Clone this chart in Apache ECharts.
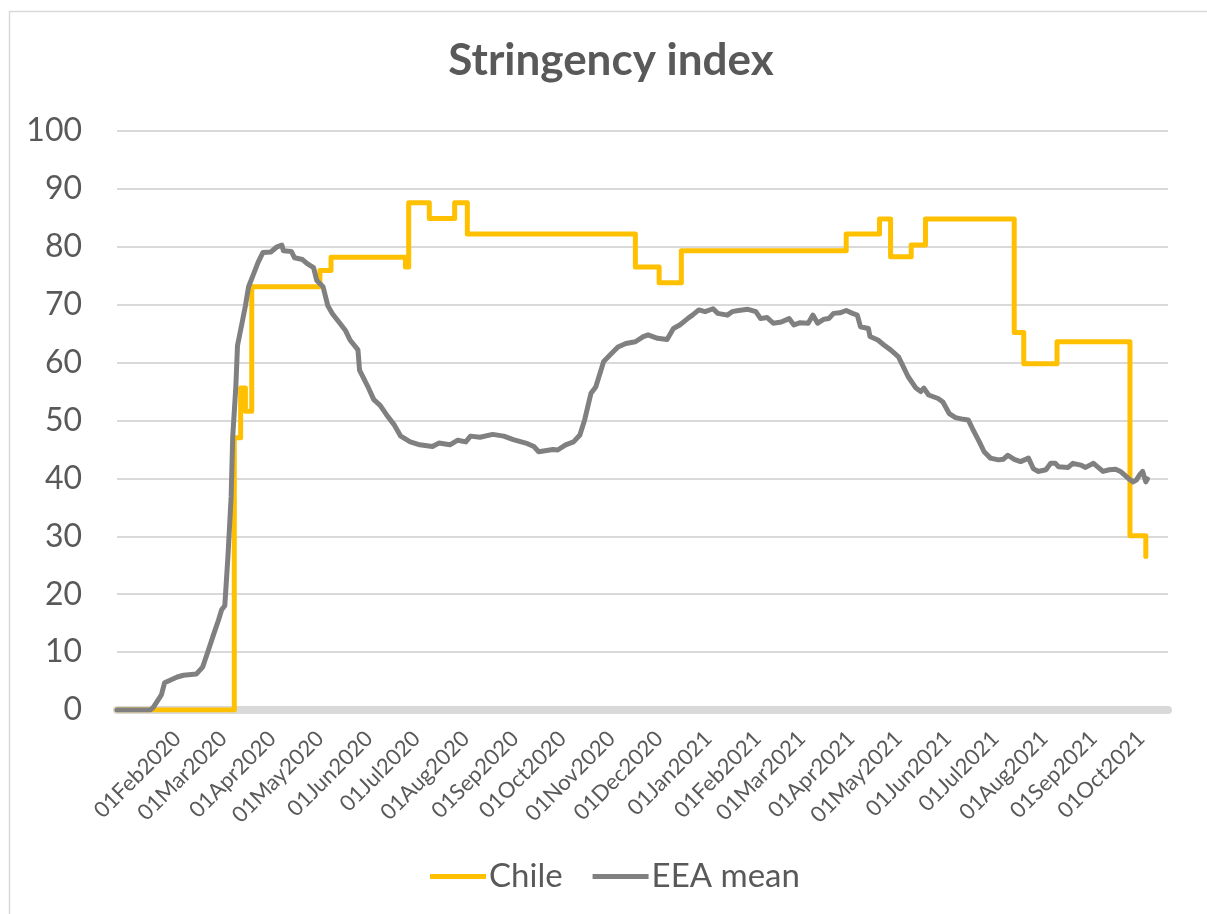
<!DOCTYPE html>
<html>
<head>
<meta charset="utf-8">
<script src="https://cdn.jsdelivr.net/npm/echarts@6/dist/echarts.min.js"></script>
<style>
html,body{margin:0;padding:0;background:#fff;}
#chart{width:1207px;height:914px;}
</style>
</head>
<body>
<div id="chart"></div>
<script>
const chartTitle = 'Stringency index';
const seriesNames = ['Chile', 'EEA mean'];

// Chile: dates where the index changed, and the new level
const chileDates = ['2019-12-25','2020-03-08','2020-03-12','2020-03-15','2020-03-19','2020-05-01','2020-05-08','2020-06-24','2020-06-26','2020-07-09','2020-07-25','2020-08-02','2020-11-16','2020-12-01','2020-12-15','2021-03-29','2021-04-19','2021-04-26','2021-05-09','2021-05-18','2021-07-13','2021-07-19','2021-08-09','2021-09-24','2021-10-04'];
const chileValues = [0,47,55.6,51.6,73.1,75.9,78.2,76.5,87.6,84.9,87.6,82.2,76.5,73.8,79.3,82.2,84.8,78.3,80.3,84.8,65.2,59.8,63.6,30.1,26.5];

// EEA mean: points
const eeaDates = ['2019-12-25','2020-01-15','2020-01-17','2020-01-22','2020-01-24','2020-02-01','2020-02-05','2020-02-13','2020-02-17','2020-02-20','2020-02-24','2020-02-27','2020-02-29','2020-03-02','2020-03-04','2020-03-06','2020-03-07','2020-03-09','2020-03-10','2020-03-13','2020-03-15','2020-03-17','2020-03-20','2020-03-23','2020-03-26','2020-03-31','2020-04-04','2020-04-07','2020-04-08','2020-04-13','2020-04-15','2020-04-20','2020-04-23','2020-04-27','2020-04-29','2020-05-03','2020-05-06','2020-05-09','2020-05-13','2020-05-17','2020-05-20','2020-05-25','2020-05-26','2020-05-31','2020-06-04','2020-06-08','2020-06-12','2020-06-17','2020-06-21','2020-06-27','2020-07-03','2020-07-11','2020-07-15','2020-07-22','2020-07-27','2020-08-01','2020-08-04','2020-08-10','2020-08-18','2020-08-25','2020-08-31','2020-09-09','2020-09-13','2020-09-16','2020-09-25','2020-09-28','2020-10-03','2020-10-08','2020-10-12','2020-10-15','2020-10-19','2020-10-22','2020-10-25','2020-10-27','2020-10-31','2020-11-05','2020-11-10','2020-11-16','2020-11-21','2020-11-24','2020-11-30','2020-12-06','2020-12-10','2020-12-14','2020-12-19','2020-12-22','2020-12-26','2020-12-30','2021-01-04','2021-01-07','2021-01-13','2021-01-16','2021-01-20','2021-01-26','2021-01-31','2021-02-03','2021-02-07','2021-02-11','2021-02-16','2021-02-21','2021-02-24','2021-02-28','2021-03-05','2021-03-08','2021-03-11','2021-03-15','2021-03-18','2021-03-21','2021-03-25','2021-03-29','2021-04-02','2021-04-05','2021-04-07','2021-04-12','2021-04-13','2021-04-18','2021-04-22','2021-04-26','2021-05-01','2021-05-04','2021-05-07','2021-05-12','2021-05-15','2021-05-17','2021-05-20','2021-05-26','2021-05-29','2021-06-02','2021-06-06','2021-06-11','2021-06-14','2021-06-17','2021-06-21','2021-06-24','2021-06-28','2021-07-03','2021-07-06','2021-07-09','2021-07-13','2021-07-17','2021-07-22','2021-07-25','2021-07-28','2021-08-02','2021-08-05','2021-08-08','2021-08-10','2021-08-16','2021-08-19','2021-08-24','2021-08-27','2021-09-01','2021-09-04','2021-09-07','2021-09-11','2021-09-15','2021-09-18','2021-09-23','2021-09-26','2021-09-28','2021-09-30','2021-10-02','2021-10-04','2021-10-05'];
const eeaValues = [0,0,0.5,2.6,4.7,5.7,6.0,6.2,7.4,9.8,13.1,15.5,17.3,18,26.6,36.8,47.2,56,62.9,67,69.8,73.1,75.2,77.3,79,79.1,80,80.3,79.3,79.2,78.1,77.8,77.1,76.4,74.2,73.1,69.8,68.4,67,65.6,63.9,62.2,58.7,56,53.6,52.6,51,49.2,47.3,46.3,45.8,45.5,46.1,45.8,46.6,46.3,47.3,47.1,47.6,47.3,46.7,46.0,45.5,44.6,45.0,44.9,45.8,46.3,47.5,50.1,54.7,55.8,58.4,60.2,61.3,62.7,63.3,63.6,64.5,64.8,64.2,64.0,65.9,66.5,67.6,68.2,69.1,68.8,69.3,68.5,68.2,68.8,69.0,69.2,68.8,67.6,67.8,66.8,67.0,67.6,66.5,66.9,66.8,68.2,66.8,67.5,67.6,68.5,68.6,69.0,68.5,68.2,66.2,65.9,64.5,63.9,63.0,62.2,61.0,59.3,57.6,55.6,55.0,55.6,54.4,53.8,53.2,51.2,50.5,50.2,50.1,48.4,46.3,44.6,43.5,43.2,43.3,44.0,43.3,42.9,43.5,41.7,41.2,41.5,42.6,42.6,42.0,41.9,42.6,42.3,41.9,42.6,41.9,41.2,41.5,41.6,41.2,40.0,39.4,39.7,40.6,41.2,39.4,39.9];

const axisStart = '2019-12-25';
const axisEnd = '2021-10-18';
const firstLabel = '2020-02-01';
const monthNames = ['Jan','Feb','Mar','Apr','May','Jun','Jul','Aug','Sep','Oct','Nov','Dec'];
const yMin = 0, yMax = 100, yStep = 10;

const FONT = 'Lato';
const TXT = '#595959';
const firstLabelTime = echarts.time.parse(firstLabel).getTime();

const chart = echarts.init(document.getElementById('chart'), null, {renderer: 'canvas'});
chart.setOption({
  animation: false,
  backgroundColor: '#ffffff',
  graphic: [
    { type: 'rect', shape: {x: 9.5, y: 11.5, width: 1300, height: 1000},
      style: {fill: 'none', stroke: '#d9d9d9', lineWidth: 1.5}, silent: true, z: -10 },
    { type: 'text', x: 611, y: 61,
      style: {text: chartTitle, fontFamily: FONT, fontWeight: 'bold', fontSize: 44,
              fill: TXT, align: 'center', verticalAlign: 'middle'} }
  ],
  legend: {
    left: 430, top: 860, padding: 0,
    itemWidth: 56, itemHeight: 5, itemGap: 30,
    icon: 'rect',
    textStyle: {fontFamily: FONT, fontSize: 33, color: TXT, padding: [0,0,0,-2]},
    data: seriesNames
  },
  grid: {left: 117, right: 39, top: 131, bottom: 204, containLabel: false},
  xAxis: {
    type: 'time',
    min: axisStart, max: axisEnd,
    splitNumber: 22,
    minInterval: 28 * 86400000,
    maxInterval: 31 * 86400000,
    offset: 3,
    axisLine: {show: true, lineStyle: {color: '#d9d9d9', width: 8}},
    axisTick: {show: false},
    splitLine: {show: false},
    axisLabel: {
      rotate: 45, fontFamily: FONT, fontSize: 22, color: TXT, margin: 22,
      hideOverlap: false, showMinLabel: false, showMaxLabel: false,
      formatter: function (val) {
        const d = new Date(val);
        if (d.getTime() < firstLabelTime - 86400000) return '';
        const dd = String(d.getDate()).padStart(2, '0');
        return dd + monthNames[d.getMonth()] + d.getFullYear();
      }
    }
  },
  yAxis: {
    type: 'value', min: yMin, max: yMax, interval: yStep,
    axisLine: {show: false}, axisTick: {show: false},
    axisLabel: {fontFamily: FONT, fontSize: 32, color: TXT, margin: 35},
    splitLine: {lineStyle: {color: '#d9d9d9', width: 2}}
  },
  series: [
    { name: seriesNames[0], type: 'line', step: 'end', showSymbol: false, symbol: 'none',
      data: chileDates.map((d, i) => [d, chileValues[i]]),
      lineStyle: {color: '#FFC000', width: 5, cap: 'round', join: 'round'},
      itemStyle: {color: '#FFC000'}, z: 2 },
    { name: seriesNames[1], type: 'line', showSymbol: false, symbol: 'none',
      data: eeaDates.map((d, i) => [d, eeaValues[i]]),
      lineStyle: {color: '#808080', width: 5, cap: 'round', join: 'round'},
      itemStyle: {color: '#808080'}, z: 3 }
  ]
});
</script>
</body>
</html>
